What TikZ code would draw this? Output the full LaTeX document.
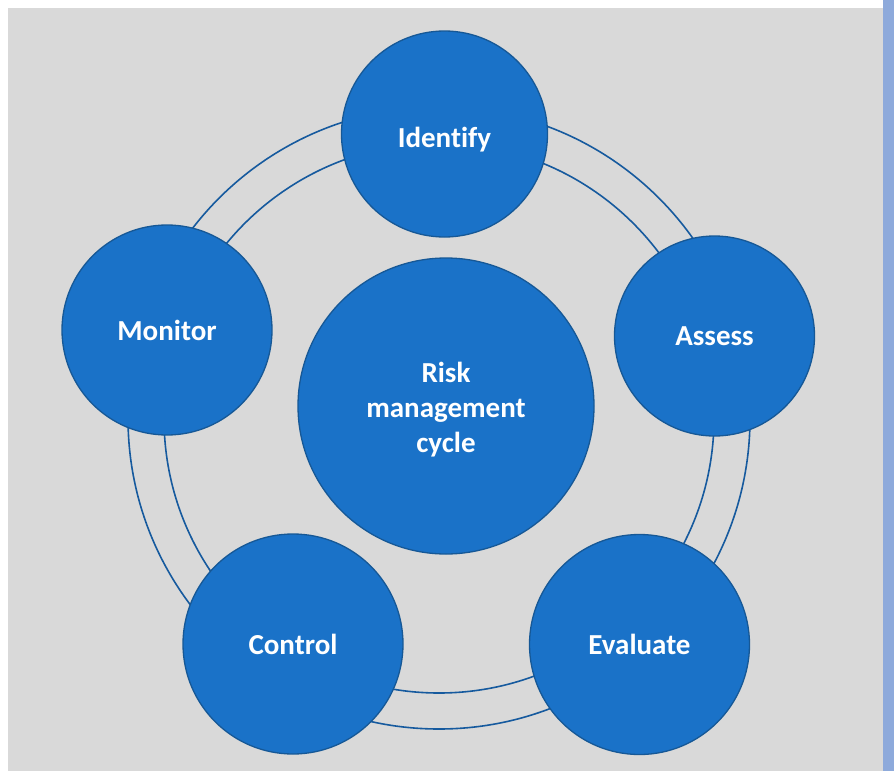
\documentclass[tikz,border=0pt]{standalone}
\usepackage{fontspec}
\setmainfont{Carlito}[Ligatures={NoCommon}]
\definecolor{panelgray}{RGB}{217,217,217}
\definecolor{sidebar}{RGB}{142,170,219}
\definecolor{stepfill}{RGB}{26,114,200}
\definecolor{stepedge}{RGB}{22,88,150}
\definecolor{ringline}{RGB}{22,90,158}
% lower a label without changing the box the node centres on
\newcommand{\dropby}[2]{\raisebox{-#1}[\height][\depth]{#2}}
\begin{document}
\begin{tikzpicture}[x=1pt,y=-1pt,
  stage/.style={circle,fill=stepfill,draw=stepedge,line width=1.3pt,
    inner sep=0pt,text=white,font=\fontsize{29}{35}\selectfont\bfseries,align=center},
  ringstyle/.style={draw=ringline,line width=1.6pt}]
  % page and panel
  \useasboundingbox (0,0) rectangle (896,771);
  \fill[white] (0,0) rectangle (896,771);
  \fill[panelgray] (8,8) rectangle (883,771);
  \fill[sidebar] (883,0) rectangle (894,771);
  % double ring joining the stages
  \coordinate (hub) at (439,418);
  \draw[ringstyle] (hub) circle[radius=311];
  \draw[ringstyle] (hub) circle[radius=275];
  % stages of the cycle
  \node[stage,minimum size=206] (identify) at (444.5,134) {\dropby{6pt}{Identify}};
  \node[stage,minimum size=200] (assess) at (714.5,336) {Assess};
  \node[stage,minimum size=220] (evaluate) at (639.5,644.5) {Evaluate};
  \node[stage,minimum size=220] (control) at (293,644) {Control};
  \node[stage,minimum size=210] (monitor) at (167,330) {Monitor};
  % centre
  \node[stage,minimum size=296] (core) at (446,406)
    {\dropby{4pt}{\parbox{200pt}{\centering Risk\\management\\cycle}}};
\end{tikzpicture}
\end{document}
